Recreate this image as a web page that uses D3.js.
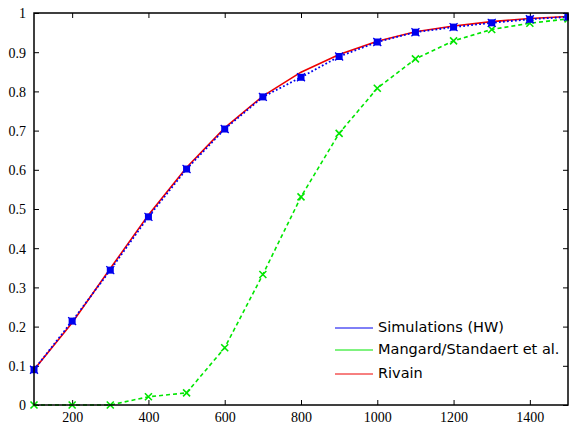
<!DOCTYPE html>
<html>
<head>
<meta charset="utf-8">
<script src="https://cdn.jsdelivr.net/npm/d3@7"></script>
<style>
  html, body { margin: 0; padding: 0; background: #fff; }
  svg { display: block; }
  .tick text { font-family: "Liberation Serif", "Times New Roman", serif; }
</style>
</head>
<body>
<svg id="chart" width="569" height="425"></svg>
<script>
// Number of traces on the x axis
const traces = [100, 200, 300, 400, 500, 600, 700, 800, 900, 1000, 1100, 1200, 1300, 1400, 1500];

// Success rates per series
const simulationsHW = [0.090, 0.214, 0.344, 0.480, 0.602, 0.704, 0.786, 0.836, 0.889, 0.926, 0.951, 0.964, 0.975, 0.984, 0.990];
const mangardStandaert = [0.000, 0.000, 0.000, 0.021, 0.031, 0.146, 0.333, 0.531, 0.693, 0.808, 0.883, 0.929, 0.958, 0.974, 0.985];
const rivain = [0.090, 0.210, 0.348, 0.485, 0.606, 0.707, 0.788, 0.849, 0.894, 0.928, 0.952, 0.967, 0.978, 0.986, 0.991];

const xTicks = [200, 400, 600, 800, 1000, 1200, 1400];
const yTicks = [0, 0.1, 0.2, 0.3, 0.4, 0.5, 0.6, 0.7, 0.8, 0.9, 1];
const legendLabels = ["Simulations (HW)", "Mangard/Standaert et al.", "Rivain"];

const svg = d3.select("#chart");
const plotLeft = 34, plotRight = 568, plotTop = 13, plotBottom = 405;

const x = d3.scaleLinear().domain([100, 1500]).range([plotLeft, plotRight]);
const y = d3.scaleLinear().domain([0, 1]).range([plotBottom, plotTop]);

const sans = "'DejaVu Sans', 'Liberation Sans', sans-serif";

// Axes with inward ticks, mirrored on all four sides
const tick = 5;
const axB = svg.append("g").attr("transform", `translate(0,${plotBottom})`)
  .call(d3.axisBottom(x).tickValues(xTicks).tickSizeInner(-tick).tickSizeOuter(0).tickPadding(7).tickFormat(d3.format("d")));
const axT = svg.append("g").attr("transform", `translate(0,${plotTop})`)
  .call(d3.axisTop(x).tickValues(xTicks).tickSizeInner(-tick).tickSizeOuter(0).tickFormat(""));
const axL = svg.append("g").attr("transform", `translate(${plotLeft},0)`)
  .call(d3.axisLeft(y).tickValues(yTicks).tickSizeInner(-tick).tickSizeOuter(0).tickPadding(8).tickFormat(d => d === 0 || d === 1 ? String(d) : d3.format(".1f")(d)));
const axR = svg.append("g").attr("transform", `translate(${plotRight},0)`)
  .call(d3.axisRight(y).tickValues(yTicks).tickSizeInner(-tick).tickSizeOuter(0).tickFormat(""));

[axB, axT, axL, axR].forEach(g => {
  g.attr("font-family", null);
  g.select(".domain").remove();
  g.selectAll(".tick line").attr("stroke", "#000").attr("stroke-width", 1);
  g.selectAll(".tick text").attr("font-size", 14).attr("fill", "#000");
});
axL.selectAll(".tick text").attr("dy", "0.35em");

// Series lines
const line = d3.line().x((d, i) => x(traces[i])).y(d => y(d));

const plot = svg.append("g");

plot.append("path").datum(mangardStandaert)
  .attr("d", line).attr("fill", "none")
  .attr("stroke", "#00e600").attr("stroke-width", 1.6).attr("stroke-dasharray", "4,3");

plot.append("path").datum(rivain)
  .attr("d", line).attr("fill", "none")
  .attr("stroke", "#ee0000").attr("stroke-width", 1.6);

plot.append("path").datum(simulationsHW)
  .attr("d", line).attr("fill", "none")
  .attr("stroke", "#0000ee").attr("stroke-width", 1.8).attr("stroke-dasharray", "1.8,2.2");

// Green cross markers
plot.selectAll(".mx").data(mangardStandaert).join("path")
  .attr("class", "mx")
  .attr("transform", (d, i) => `translate(${x(traces[i])},${y(d)})`)
  .attr("d", "M-3.5,-3.5L3.5,3.5M-3.5,3.5L3.5,-3.5")
  .attr("stroke", "#00e600").attr("stroke-width", 1.6).attr("fill", "none");

// Blue square markers
const sq = plot.selectAll(".sq").data(simulationsHW).join("g")
  .attr("class", "sq")
  .attr("transform", (d, i) => `translate(${x(traces[i])},${y(d)})`);
sq.append("rect").attr("x", -3.5).attr("y", -3.5).attr("width", 7).attr("height", 7).attr("fill", "#0000ee");
sq.append("path").attr("d", "M-4,-4L4,4M-4,4L4,-4")
  .attr("stroke", "#0000ee").attr("stroke-width", 1.2);

// Frame
svg.append("rect").attr("x", plotLeft).attr("y", plotTop).attr("width", plotRight - plotLeft).attr("height", plotBottom - plotTop)
  .attr("fill", "none").attr("stroke", "#000").attr("stroke-width", 1.5);

// Legend
const legendColors = ["#0000ee", "#00e600", "#ee0000"];
const legendY = [327, 349, 373];
const lg = svg.append("g");
legendLabels.forEach((lab, i) => {
  lg.append("line").attr("x1", 335).attr("x2", 373).attr("y1", legendY[i] + 1).attr("y2", legendY[i] + 1)
    .attr("stroke", legendColors[i]).attr("stroke-width", 1);
  lg.append("text").attr("x", 378).attr("y", legendY[i]).attr("dy", "0.35em")
    .attr("font-family", sans).attr("font-size", 14.5).attr("fill", "#000").text(lab);
});
</script>
</body>
</html>
